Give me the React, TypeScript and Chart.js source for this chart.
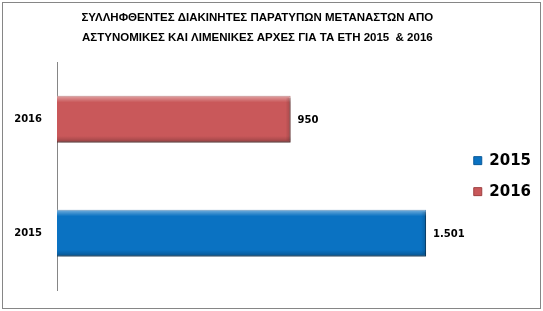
import React, { useEffect, useRef } from "react";
import { Chart, registerables } from "chart.js";

Chart.register(...registerables);

const titleLines = [
  "ΣΥΛΛΗΦΘΕΝΤΕΣ ΔΙΑΚΙΝΗΤΕΣ ΠΑΡΑΤΥΠΩΝ ΜΕΤΑΝΑΣΤΩΝ ΑΠΟ",
  "ΑΣΤΥΝΟΜΙΚΕΣ ΚΑΙ ΛΙΜΕΝΙΚΕΣ ΑΡΧΕΣ ΓΙΑ ΤΑ ΕΤΗ 2015  & 2016",
];
const categories = ["2016", "2015"];
const seriesNames = ["2015", "2016"];
const values2015 = [null, 1501];
const values2016 = [950, null];
const seriesColors = ["#0A72C2", "#C9585A"];
const seriesBorders = ["#0A5A9A", "#9E3F40"];
const axisMax = 1630;

const fmt = (v: number) => v.toLocaleString("de-DE");

// Outer frame, drop shadow and bevel shading for the bars, value labels.
const decor = {
  id: "decor",
  beforeDraw(chart: any) {
    const { ctx, width, height } = chart;
    ctx.save();
    ctx.fillStyle = "#ffffff";
    ctx.fillRect(0, 0, width, height);
    ctx.strokeStyle = "#868686";
    ctx.lineWidth = 1;
    ctx.strokeRect(2.5, 2.5, width - 5, height - 5);
    ctx.restore();
  },
  beforeDatasetDraw(chart: any) {
    const ctx = chart.ctx;
    ctx.save();
    ctx.shadowColor = "rgba(0,0,0,0.35)";
    ctx.shadowOffsetX = 1;
    ctx.shadowOffsetY = 3;
    ctx.shadowBlur = 4;
  },
  afterDatasetDraw(chart: any) {
    chart.ctx.restore();
  },
  afterDatasetsDraw(chart: any) {
    const ctx = chart.ctx;
    chart.data.datasets.forEach((ds: any, di: number) => {
      const meta = chart.getDatasetMeta(di);
      meta.data.forEach((bar: any, i: number) => {
        const v = ds.data[i];
        if (v == null) return;
        const left = Math.min(bar.base, bar.x);
        const right = Math.max(bar.base, bar.x);
        const top = bar.y - bar.height / 2;
        const h = bar.height;
        ctx.save();
        const g = ctx.createLinearGradient(0, top, 0, top + h);
        g.addColorStop(0, "rgba(255,255,255,0.45)");
        g.addColorStop(0.1, "rgba(255,255,255,0.12)");
        g.addColorStop(0.14, "rgba(255,255,255,0)");
        g.addColorStop(0.86, "rgba(0,0,0,0)");
        g.addColorStop(0.93, "rgba(0,0,0,0.12)");
        g.addColorStop(1, "rgba(0,0,0,0.3)");
        ctx.fillStyle = g;
        ctx.fillRect(left, top, right - left, h);
        const gr = ctx.createLinearGradient(right - 5, 0, right, 0);
        gr.addColorStop(0, "rgba(0,0,0,0)");
        gr.addColorStop(1, "rgba(0,0,0,0.18)");
        ctx.fillStyle = gr;
        ctx.fillRect(right - 5, top + 2, 5, h - 4);
        ctx.fillStyle = "#000000";
        ctx.font = "bold 10px 'DejaVu Sans'";
        ctx.textAlign = "left";
        ctx.textBaseline = "middle";
        ctx.fillText(fmt(v), right + 7, bar.y + 1);
        ctx.restore();
      });
    });
  },
};

export default function App() {
  const ref = useRef<HTMLCanvasElement>(null);
  useEffect(() => {
    const chart = new Chart(ref.current as HTMLCanvasElement, {
      type: "bar",
      data: {
        labels: categories,
        datasets: [
          {
            label: seriesNames[0],
            data: values2015,
            backgroundColor: seriesColors[0],
            borderColor: seriesBorders[0],
            borderWidth: 1,
          },
          {
            label: seriesNames[1],
            data: values2016,
            backgroundColor: seriesColors[1],
            borderColor: seriesBorders[1],
            borderWidth: 1,
          },
        ],
      },
      options: {
        indexAxis: "y",
        responsive: false,
        animation: false,
        events: [],
        datasets: { bar: { categoryPercentage: 1, barPercentage: 0.41 } },
        layout: { padding: { left: 0, right: 2, top: 6, bottom: 15 } },
        scales: {
          x: { display: false, stacked: true, min: 0, max: axisMax },
          y: {
            stacked: true,
            grid: { display: false, drawTicks: false },
            border: { display: true, color: "#868686", width: 1 },
            ticks: {
              color: "#000000",
              font: { family: "'DejaVu Sans'", size: 10, weight: "bold" },
              padding: 15,
            },
            afterFit(scale: any) {
              scale.width = 57;
            },
          },
        },
        plugins: {
          title: {
            display: true,
            text: titleLines,
            fullSize: false,
            color: "#000000",
            font: { family: "'Liberation Sans'", size: 11.5, weight: "bold", lineHeight: 1.75 },
            padding: { top: 2, bottom: 14 },
          },
          legend: {
            position: "right",
            align: "center",
            fullSize: false,
            labels: {
              boxWidth: 8,
              boxHeight: 8,
              padding: 16,
              color: "#000000",
              font: { family: "'DejaVu Sans'", size: 15, weight: "bold" },
            },
          },
          tooltip: { enabled: false },
        },
      },
      plugins: [decor],
    });
    return () => chart.destroy();
  }, []);
  return (
    <div style={{ position: "absolute", left: 0, top: 0, width: 543, height: 311 }}>
      <canvas ref={ref} width={543} height={311} />
    </div>
  );
}
